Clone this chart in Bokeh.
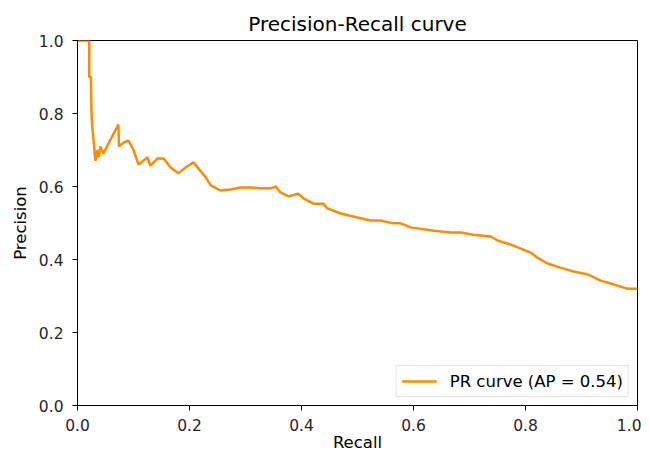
from bokeh.plotting import figure
from bokeh.models import Range1d, FixedTicker, PrintfTickFormatter
from bokeh.embed import file_html
from bokeh.resources import INLINE

recall = [0.0, 0.021, 0.021, 0.024, 0.025, 0.026, 0.032, 0.035, 0.038, 0.041,
          0.046, 0.073, 0.074, 0.082, 0.091, 0.100, 0.109, 0.125, 0.130, 0.143,
          0.154, 0.166, 0.180, 0.193, 0.207, 0.216, 0.229, 0.238, 0.255, 0.273,
          0.291, 0.309, 0.327, 0.345, 0.354, 0.362, 0.377, 0.394, 0.404, 0.421,
          0.439, 0.446, 0.470, 0.500, 0.523, 0.541, 0.564, 0.577, 0.595, 0.636,
          0.666, 0.684, 0.707, 0.738, 0.750, 0.773, 0.786, 0.809, 0.821, 0.839,
          0.868, 0.886, 0.911, 0.934, 0.957, 0.982, 1.0]
precision = [1.0, 1.0, 0.90, 0.90, 0.80, 0.77, 0.67, 0.70, 0.68, 0.71,
             0.69, 0.77, 0.71, 0.72, 0.726, 0.70, 0.66, 0.68, 0.657, 0.677,
             0.677, 0.652, 0.636, 0.652, 0.666, 0.649, 0.625, 0.603, 0.589, 0.592,
             0.597, 0.597, 0.595, 0.595, 0.600, 0.584, 0.573, 0.580, 0.567, 0.553,
             0.553, 0.540, 0.526, 0.515, 0.507, 0.507, 0.499, 0.499, 0.488, 0.479,
             0.474, 0.474, 0.468, 0.463, 0.452, 0.441, 0.433, 0.419, 0.405, 0.389,
             0.375, 0.367, 0.359, 0.342, 0.332, 0.320, 0.320]
ticks = [0.0, 0.2, 0.4, 0.6, 0.8, 1.0]
ap = 0.54

FONT = "DejaVu Sans"

p = figure(width=641, height=455, output_backend="svg", toolbar_location=None,
           x_range=Range1d(0, 1), y_range=Range1d(0, 1),
           title="Precision-Recall curve",
           min_border_left=77, min_border_right=4, min_border_top=40, min_border_bottom=50)

p.line(recall, precision, line_color="#FF8C00", line_width=2.5,
       legend_label=f"PR curve (AP = {ap:.2f})")

p.title.align = "center"
p.title.text_font = FONT
p.title.text_font_size = "20px"
p.title.text_font_style = "normal"
p.title.text_color = "#000000"
p.title.offset = 0
p.title.standoff = 9

p.xgrid.visible = False
p.ygrid.visible = False
p.outline_line_color = "#000000"
p.outline_line_width = 1
p.outline_line_alpha = 1.0

for ax, lab, lstand, tstand in ((p.xaxis[0], "Recall", -1, 8), (p.yaxis[0], "Precision", 6, 9)):
    ax.ticker = FixedTicker(ticks=ticks)
    ax.formatter = PrintfTickFormatter(format="%.1f")
    ax.axis_label = lab
    ax.axis_label_text_font = FONT
    ax.axis_label_text_font_size = "16.5px"
    ax.axis_label_text_font_style = "normal"
    ax.axis_label_text_color = "#000000"
    ax.axis_label_standoff = lstand
    ax.major_label_text_font = FONT
    ax.major_label_text_font_size = "15.5px"
    ax.major_label_text_color = "#262626"
    ax.major_label_standoff = tstand
    ax.major_tick_out = 5
    ax.major_tick_in = 0
    ax.minor_tick_out = 0
    ax.minor_tick_in = 0
    ax.axis_line_color = "#000000"
    ax.major_tick_line_color = "#000000"

leg = p.legend[0]
leg.location = "bottom_right"
leg.margin = 8
leg.label_text_font = FONT
leg.label_text_font_size = "16.5px"
leg.label_text_color = "#000000"
leg.border_line_color = "#cccccc"
leg.border_line_width = 1
leg.background_fill_alpha = 0.8
leg.glyph_width = 35
leg.label_standoff = 13
leg.padding = 5
leg.spacing = 0

open("out.html", "w").write(file_html(p, INLINE))
